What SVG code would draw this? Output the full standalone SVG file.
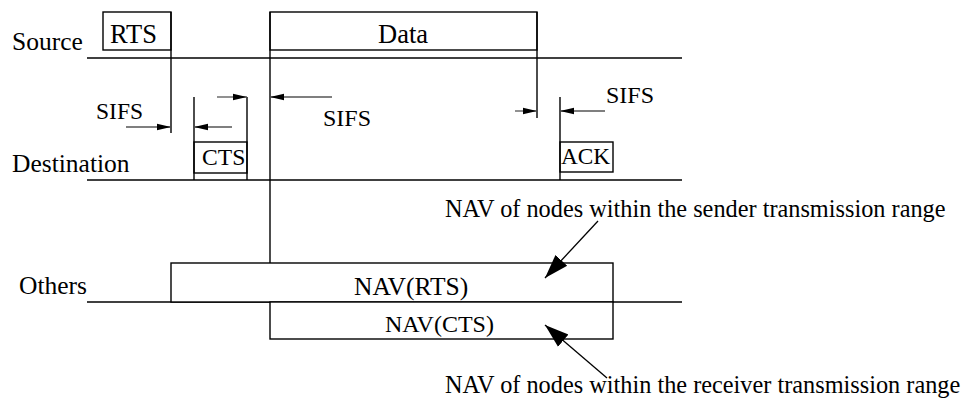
<svg xmlns="http://www.w3.org/2000/svg" width="968" height="407" viewBox="0 0 968 407">
<style>
text{font-family:"Liberation Serif","Times New Roman",serif;fill:#000}
.lbl{font-size:25.5px}
.t{font-size:24px}
.ln{stroke:#000;stroke-width:1.4;fill:none}
.box{stroke:#000;stroke-width:1.4;fill:#fff}
.arr{stroke:#555;stroke-width:1.3;fill:none;marker-end:url(#ah)}
.big{stroke:#000;stroke-width:1.3;fill:none;marker-end:url(#bh)}
</style>
<defs>
<marker id="ah" markerUnits="userSpaceOnUse" markerWidth="14" markerHeight="8" refX="14" refY="4" orient="auto"><path d="M0,0.8 L14,4 L0,7.2 Z" fill="#000"/></marker>
<marker id="bh" markerUnits="userSpaceOnUse" markerWidth="24" markerHeight="18" refX="24" refY="9" orient="auto"><path d="M0,1 L24,9 L0,17 Z" fill="#000"/></marker>
</defs>
<g id="labels">
<text class="lbl" x="12" y="50">Source</text>
<text class="lbl" x="12" y="172">Destination</text>
<text class="lbl" x="19" y="294">Others</text>
</g>
<g id="timelines">
<line class="ln" x1="87" y1="58" x2="682" y2="58"/>
<line class="ln" x1="87" y1="180" x2="682" y2="180"/>
<line class="ln" x1="87" y1="302" x2="682" y2="302"/>
</g>
<g id="rts">
<rect class="box" x="103" y="12" width="68" height="38"/>
<line class="ln" x1="171" y1="12" x2="171" y2="133"/>
<text class="t" x="110" y="43" style="font-size:26.5px">RTS</text>
</g>
<g id="data">
<rect class="box" x="270" y="12" width="267" height="38"/>
<line class="ln" x1="270" y1="12" x2="270" y2="263"/>
<line class="ln" x1="537" y1="12" x2="537" y2="118"/>
<text class="t" x="378" y="43" style="font-size:26.5px">Data</text>
</g>
<g id="cts">
<rect class="box" x="194" y="142" width="53" height="31"/>
<line class="ln" x1="194" y1="97" x2="194" y2="180"/>
<line class="ln" x1="247" y1="97" x2="247" y2="180"/>
<text class="t" x="202" y="165" style="font-size:23.6px">CTS</text>
</g>
<g id="ack">
<rect class="box" x="560" y="142" width="53" height="30"/>
<line class="ln" x1="560" y1="97" x2="560" y2="180"/>
<text class="t" x="561" y="164" style="font-size:23.3px">ACK</text>
</g>
<g id="nav-rts">
<rect class="box" x="171" y="263" width="442" height="39"/>
<text class="lbl" x="354" y="295">NAV(RTS)</text>
</g>
<g id="nav-cts">
<rect class="box" x="270" y="302" width="343" height="37"/>
<text class="t" x="385" y="332">NAV(CTS)</text>
</g>
<g id="sifs-labels">
<text class="t" x="96" y="119" style="font-size:23.5px">SIFS</text>
<text class="t" x="323" y="126">SIFS</text>
<text class="t" x="606" y="103">SIFS</text>
</g>
<g id="nav-notes">
<text class="t" x="445" y="217" style="font-size:24.3px">NAV of nodes within the sender transmission range</text>
<text class="t" x="445" y="393" style="font-size:24.3px">NAV of nodes within the receiver transmission range</text>
</g>
<g id="connectors">
<line class="arr" x1="126" y1="127" x2="171" y2="127"/>
<line class="arr" x1="232" y1="127" x2="194" y2="127"/>
<line class="arr" x1="217" y1="97" x2="247" y2="97"/>
<line class="arr" x1="332" y1="97" x2="270" y2="97"/>
<line class="arr" x1="515" y1="111" x2="537" y2="111"/>
<line class="arr" x1="605" y1="111" x2="560" y2="111"/>
<line class="big" x1="598" y1="221" x2="545" y2="278"/>
<line class="big" x1="607" y1="378" x2="545" y2="325"/>
</g>
</svg>
